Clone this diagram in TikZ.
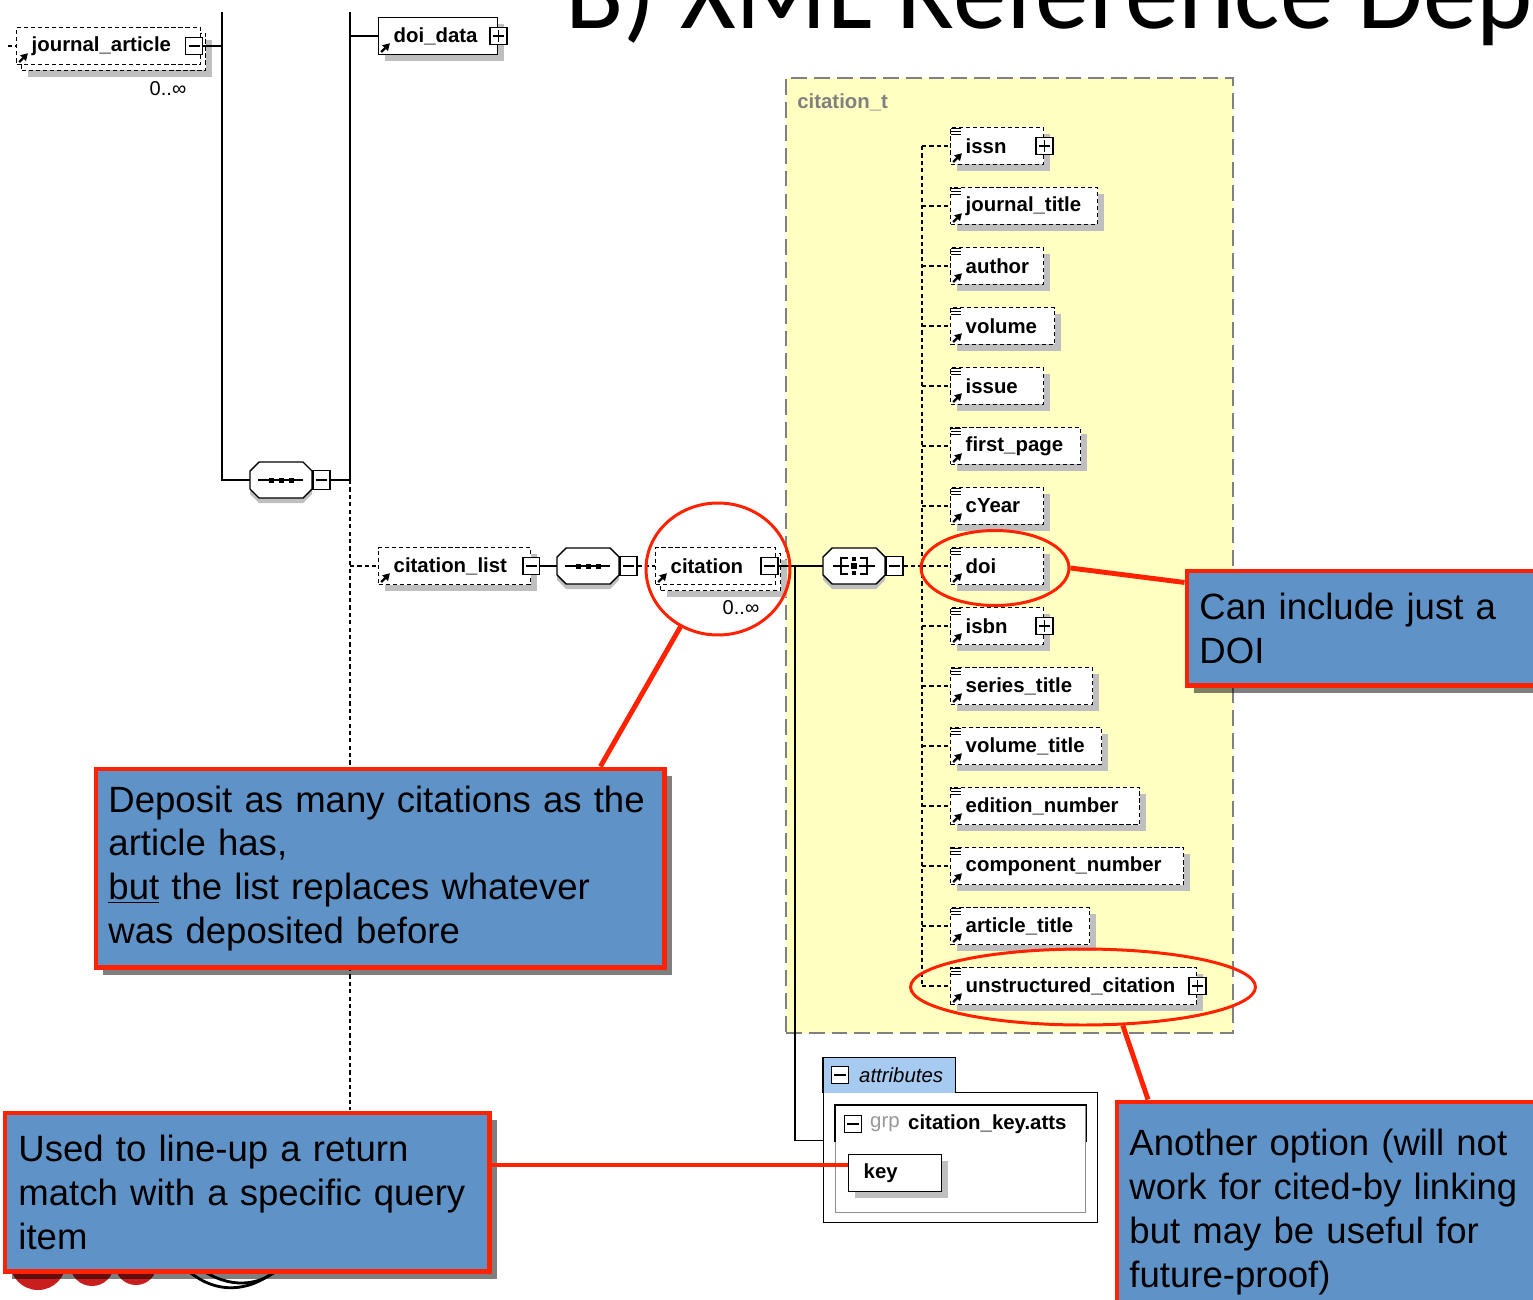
\documentclass[tikz,border=0pt]{standalone}
\usepackage{fontspec}
\setmainfont{Liberation Sans}
\newfontfamily\titlefont{Carlito}
\usetikzlibrary{positioning, shapes.geometric, shadows, arrows.meta}

\definecolor{noteblue}{RGB}{95,147,200}
\definecolor{notered}{RGB}{255,34,0}
\definecolor{typeyellow}{RGB}{255,255,194}
\definecolor{tabblue}{RGB}{166,202,240}
\definecolor{logored}{RGB}{200,30,30}

\newcommand\elemfont{\fontsize{11.6}{13}\selectfont\bfseries}
\newcommand\notefont{\fontsize{20.8}{25}\selectfont}

% little marks inside the element boxes
\newcommand\elemarrow[1]{%
  \draw[solid, line width=1.3pt, -{Triangle[length=4pt, width=4.4pt]}]
    ([xshift=1.8pt, yshift=1.8pt]#1.south west) -- ++(5pt,5pt);}
\newcommand\elemicons[1]{%
  \begin{scope}[shift={(#1.north west)}, line width=0.8pt]
    \foreach \k in {1.5,4.5,7.5} \draw (1,\k) -- (11,\k);
  \end{scope}
  \elemarrow{#1}}

% octagon of a compositor, drawn round its node
\newcommand\compoct[1]{%
  \begin{scope}[shift={(#1.center)}]
    \fill[black!25] (-22,-11) -- (22,-11) -- (31,-2) -- (31,14) -- (22,23) -- (-22,23)
      -- (-31,14) -- (-31,-2) -- cycle;
    \filldraw[fill=white, line width=0.8pt] (-22,-18) -- (22,-18) -- (31,-9) -- (31,9)
      -- (22,18) -- (-22,18) -- (-31,9) -- (-31,-9) -- cycle;
  \end{scope}}
\newcommand\seqicon[1]{%
  \begin{scope}[shift={(#1.center)}]
    \draw[line width=0.8pt] (-23,0) -- (22,0);
    \foreach \d in {-10,0,10} \fill (\d-2.5,-2.5) rectangle (\d+2.5,2.5);
  \end{scope}}
\newcommand\choiceicon[1]{%
  \begin{scope}[shift={(#1.center)}, line width=0.8pt]
    \draw (-21,0) -- (-13,0) (13,0) -- (21,0);
    \draw (-6,-8) -- (-13,-8) -- (-13,8) -- (-6,8);
    \draw (6,-8) -- (13,-8) -- (13,8) -- (6,8);
    \draw (-13,0) -- (-5,0) (5,0) -- (13,0);
    \fill (-2,-9) rectangle (2,-5);
    \fill (-3,-3) rectangle (3,3);
    \fill (-2,5) rectangle (2,9);
  \end{scope}}

\tikzset{
  xshadow/.style={general shadow={fill=black!25, shadow xshift=3.5pt, shadow yshift=-3.5pt}},
  elembox/.style={draw, fill=white, line width=0.8pt, dash pattern=on 2.4pt off 1.6pt,
    anchor=west, minimum height=0.74cm, inner xsep=0.3cm, inner ysep=0pt,
    text width=#1, align=left, font=\elemfont},
  elem/.style={elembox=#1, xshadow},
  pmbox/.style={draw, solid, fill=white, line width=0.7pt, minimum size=0.34cm, inner sep=0pt},
  minusbox/.style={pmbox, path picture={
      \draw[line width=0.7pt] ([xshift=1.5pt]path picture bounding box.west)
        -- ([xshift=-1.5pt]path picture bounding box.east);}},
  plusbox/.style={pmbox, path picture={
      \draw[line width=0.7pt] ([xshift=1.5pt]path picture bounding box.west)
        -- ([xshift=-1.5pt]path picture bounding box.east)
        ([yshift=1.5pt]path picture bounding box.south)
        -- ([yshift=-1.5pt]path picture bounding box.north);}},
  compminus/.style={minusbox, minimum width=0.34cm, minimum height=0.38cm, anchor=west},
  comp/.style={minimum width=1.24cm, minimum height=0.72cm, inner sep=0pt},
  solidline/.style={line width=0.8pt},
  treedash/.style={line width=0.8pt, dash pattern=on 2.4pt off 1.8pt},
  typebox/.style={draw=black!50, fill=typeyellow, line width=1pt, dash pattern=on 9pt off 4pt,
    inner sep=0pt, anchor=north west},
  note/.style={draw=notered, line width=2.8pt, fill=noteblue, anchor=north west, align=left,
    inner ysep=0pt, inner xsep=0.25cm, font=\notefont,
    drop shadow={shadow xshift=4pt, shadow yshift=-4pt, opacity=0.5, fill=black}},
  ring/.style={ellipse, draw=notered, line width=1.7pt, inner sep=0pt},
  redline/.style={draw=notered, line width=2.8pt},
}

\begin{document}
\begin{tikzpicture}[x=0.02cm, y=-0.02cm]
  \useasboundingbox (0,0) rectangle (1533,1300);

  % title, cut by the page edge
  \node[anchor=base west, inner sep=0pt, font=\titlefont\fontsize{61}{61}\selectfont] (title)
    at (565,29) {B) XML Reference Dep};

  % the citation_t type area
  \node[typebox, minimum width=8.94cm, minimum height=19.1cm] (ctype) at (785,77) {};
  \node[anchor=west, inner sep=0pt, text=black!50, font=\elemfont] (ctypelbl) at (797,102) {citation\_t};

  % left part of the tree
  \coordinate (topA) at (222,12);
  \coordinate (topB) at (350,12);
  \coordinate (jartin) at (8,46);
  \coordinate (listend) at (350,1110);

  \node[elem=3.08cm] (jartback) at (21,52) {};
  \node[elembox=3.08cm] (jart) at (16,46) {journal\_article};
  \elemarrow{jart}
  \node[minusbox] (jartm) at ([xshift=-0.14cm]jart.east) {};
  \node[font=\fontsize{11.4}{13}\selectfont] (jartocc) at (168,89) {0..∞};

  \node[elem=1.78cm, solid] (ddata) at (378,36) {doi\_data};
  \elemarrow{ddata}
  \node[plusbox] (ddatap) at (ddata.east) {};

  \node[comp] (seq1) at (281,480) {};
  \compoct{seq1}\seqicon{seq1}
  \node[compminus] (seq1m) at (seq1.east) {};

  \node[elem=2.44cm] (clist) at (378,566) {citation\_list};
  \elemarrow{clist}
  \node[minusbox] (clistm) at (clist.east) {};

  \node[comp] (seq2) at (588,566) {};
  \compoct{seq2}\seqicon{seq2}
  \node[compminus] (seq2m) at (seq2.east) {};

  \node[elem=1.8cm] (citback) at (660,572) {};
  \node[elembox=1.8cm] (cit) at (655,566) {citation};
  \elemarrow{cit}
  \node[minusbox] (citm) at ([xshift=-0.14cm]cit.east) {};
  \node[font=\fontsize{11.4}{13}\selectfont] (citocc) at (741,608) {0..∞};

  \node[comp] (choice) at (854,566) {};
  \compoct{choice}\choiceicon{choice}
  \node[compminus] (choicem) at (choice.east) {};

  % children of citation_t
  \coordinate (bus) at (922,566);
  \foreach \nm/\lbl/\w/\hasplus [count=\i from 0] in {
      issn/issn/93/1, jtitle/journal\_title/147/0, author/author/93/0, volume/volume/104/0,
      issue/issue/93/0, fpage/first\_page/130/0, cyear/cYear/93/0, doi/doi/93/0,
      isbn/isbn/93/1, stitle/series\_title/142/0, vtitle/volume\_title/151/0,
      edno/edition\_number/189/0, compno/component\_number/233/0,
      atitle/article\_title/139/0, unstruct/unstructured\_citation/246/1} {
    \pgfmathsetmacro\tw{(\w-30)*0.02}
    \node[elem=\tw cm] (\nm) at (950,{146+60*\i}) {\lbl};
    \elemicons{\nm}
    \ifnum\hasplus=1 \node[plusbox] (\nm p) at (\nm.east) {}; \fi
    \draw[treedash] (\nm.west -| bus) -- (\nm.west);
  }
  \draw[treedash] (bus |- issn.west) -- (bus |- unstruct.west);

  % attributes
  \node[draw, fill=white, line width=0.8pt, anchor=north west, minimum width=5.48cm,
    minimum height=2.6cm] (attrbox) at (823,1092) {};
  \node[fill=tabblue, anchor=south west, minimum width=2.64cm, minimum height=0.7cm,
    inner sep=0pt] (attrtab) at ([yshift=-0.6pt]attrbox.north west) {};
  \draw[line width=0.8pt] (attrtab.south west) |- (attrtab.north east) -- (attrtab.south east);
  \node[minusbox] (attrm) at (840,1075) {};
  \node[anchor=west, font=\itshape\fontsize{11.6}{13}\selectfont] (attrlbl) at (853,1075) {attributes};
  \node[draw=black!45, fill=white, line width=0.8pt, anchor=north west, minimum width=5cm,
    minimum height=2.14cm] (grpbox) at (835,1105) {};
  \draw[line width=0.8pt] ([yshift=-0.74cm]grpbox.north west) |- (grpbox.north east)
    -- ([yshift=-0.74cm]grpbox.north east);
  \node[minusbox] (grpm) at (853,1124) {};
  \node[anchor=west, text=black!40, font=\fontsize{11.6}{13}\selectfont] (grplbl) at (864,1124) {grp};
  \node[anchor=west, font=\elemfont] (grpname) at (902,1124) {citation\_key.atts};
  \node[elem=1.26cm, solid] (key) at (848,1173) {key};

  % connectors
  \draw[treedash] (jartin) -- (jart.west);
  \draw[solidline] (jartm.east) -- (jartm.east -| topA);
  \draw[solidline] (topA) |- (seq1.west);
  \draw[solidline] (topB) -- (seq1m.east -| topB);
  \draw[solidline] (seq1m.east) -- (seq1m.east -| topB);
  \draw[treedash] (seq1m.east -| topB) -- (listend);
  \draw[solidline] (ddata.west -| topB) -- (ddata.west);
  \draw[treedash] (clist.west -| topB) -- (clist.west);
  \draw[solidline] (clistm.east) -- (seq2.west);
  \draw[treedash] (seq2m.east) -- (cit.west);
  \draw[solidline] (citm.east) -- (choice.west);
  \coordinate (attrjoin) at (795,566);
  \draw[solidline] (attrjoin) |- ([yshift=0.34cm]attrbox.west);
  \draw[treedash] (choicem.east) -- (bus);

  % red rings
  \node[ring, minimum width=2.88cm, minimum height=2.64cm] (citering) at (718,569) {};
  \node[ring, minimum width=2.96cm, minimum height=1.5cm] (doiring) at (995,568) {};
  \node[ring, minimum width=6.9cm, minimum height=1.52cm] (unsring) at (1083,987) {};

  % logo behind the lower note
  \fill[logored] (38,1262) circle (0.56cm);
  \fill[logored] (92,1264) circle (0.44cm);
  \fill[logored] (136,1264) circle (0.42cm);
  \draw[line width=1.6pt] (185,1268) .. controls (215,1296) and (250,1292) .. (276,1270);
  \draw[line width=1.6pt] (205,1272) .. controls (235,1290) and (262,1284) .. (280,1268);

  % notes
  \node[note, text width=10.88cm, minimum height=3.98cm] (deposit) at (93.5,766.5)
    {Deposit as many citations as the\\article has,\\\underline{but} the list replaces whatever\\was deposited before};
  \node[note, text width=7cm, minimum height=2.3cm] (candoi) at (1184.5,568.5)
    {Can include just a\\DOI};
  \node[note, text width=8.4cm, minimum height=4.4cm] (another) at (1114.5,1099.5)
    {Another option (will not\\work for cited-by linking\\but may be useful for\\future-proof)};
  \node[note, inner xsep=0.27cm, text width=9.16cm, minimum height=3.18cm] (used) at (2.5,1110.5)
    {Used to line-up a return\\match with a specific query\\item};

  % red leaders
  \draw[redline] (citering.237) -- ([xshift=4.4cm]deposit.north);
  \draw[redline] (doiring.east) -- ([yshift=0.92cm]candoi.west);
  \draw[redline] (unsring.316) -- ([xshift=0.67cm]another.north west);
  \path ([yshift=0.16cm]key.west) coordinate (keyhook);
  \draw[redline] (keyhook) -- (keyhook -| used.east);
\end{tikzpicture}
\end{document}
